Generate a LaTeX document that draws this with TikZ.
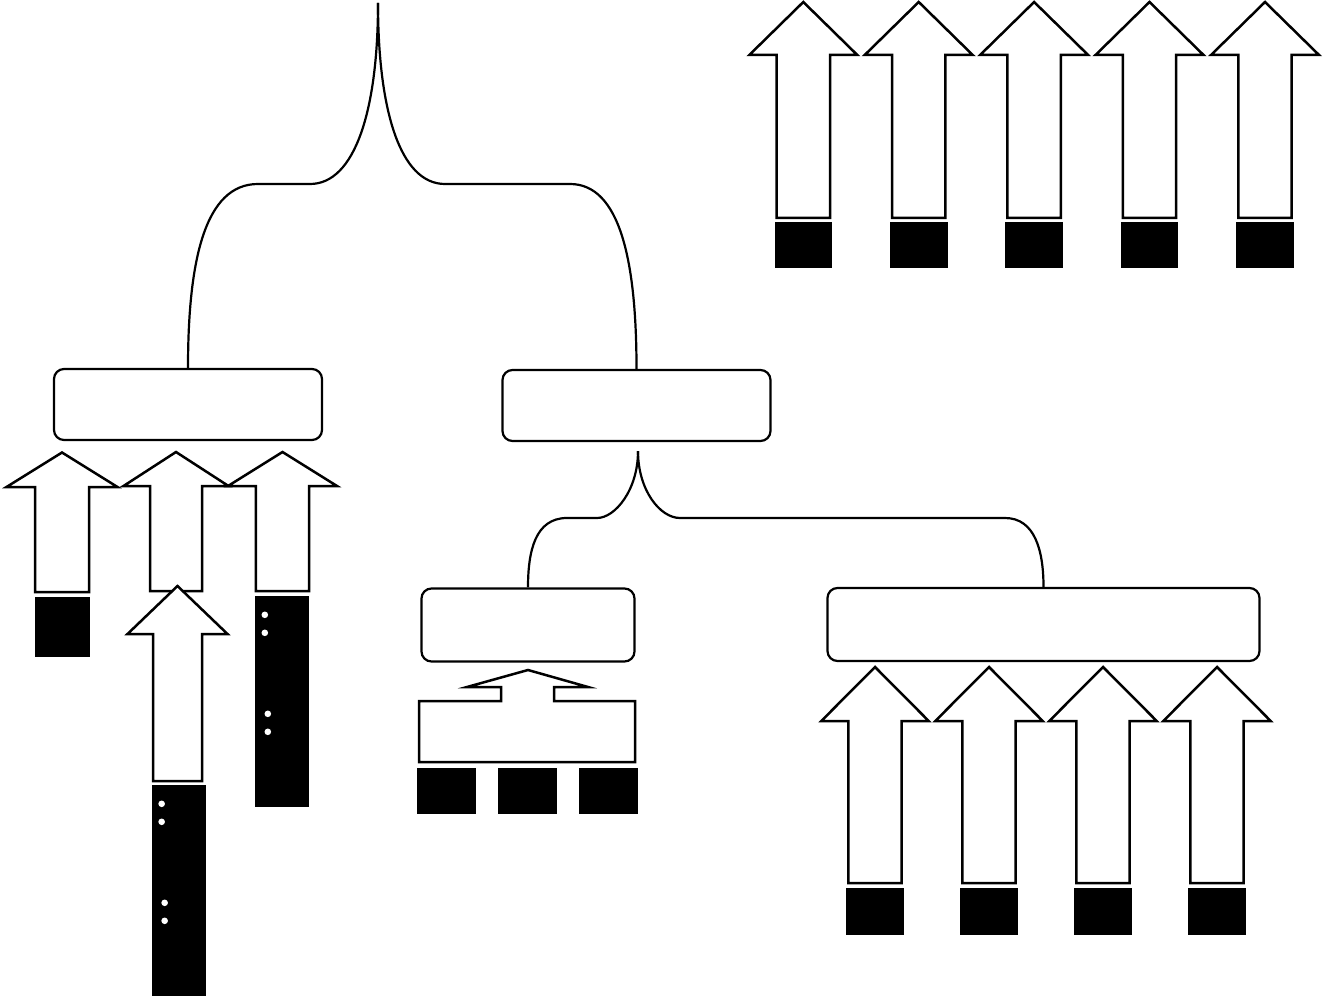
\documentclass[tikz,border=0pt]{standalone}
\usetikzlibrary{calc}

% hollow block arrow: x, tip y, head y, tail y, half head width, half shaft width
\newcommand{\fatarrow}[6]{%
  \draw[fat] (#1,#2) -- (#1+#5,#3) -- (#1+#6,#3) -- (#1+#6,#4)
    -- (#1-#6,#4) -- (#1-#6,#3) -- (#1-#5,#3) -- cycle;}

\begin{document}
\begin{tikzpicture}[x=1pt,y=-1pt,
    link/.style={line width=2.2pt},
    roundbox/.style={draw,line width=2.2pt,rounded corners=10pt,inner sep=0pt},
    blk/.style={fill=black,inner sep=0pt},
    fat/.style={draw,fill=white,line width=2.5pt}]
  \useasboundingbox (0,0) rectangle (1329,1000);

  % boxes
  \node[roundbox,minimum width=268pt,minimum height=71pt] (lbox) at (188,404.5) {};
  \node[roundbox,minimum width=268pt,minimum height=71pt] (rbox) at (636.5,405.5) {};
  \node[roundbox,minimum width=213pt,minimum height=73pt] (sbox) at (528,625) {};
  \node[roundbox,minimum width=432pt,minimum height=73pt] (bbox) at (1043.5,624.5) {};

  % upper brace
  \coordinate (top) at (378,3);
  \coordinate (tl1) at (310,184);
  \coordinate (tl2) at (258,184);
  \coordinate (tr1) at (445,184);
  \coordinate (tr2) at (570,184);
  \draw[link] (top) .. controls +(0,107) and +(45,0) .. (tl1) -- (tl2)
    .. controls +(-53,0) and +(0,-108) .. (lbox.north);
  \draw[link] (top) .. controls +(0,107) and +(-45,0) .. (tr1) -- (tr2)
    .. controls +(50,0) and +(0,-108) .. (rbox.north);

  % lower brace
  \coordinate (apex) at ($(rbox.south)+(1.5,9)$);
  \coordinate (ml1) at (597,518);
  \coordinate (ml2) at (567,518);
  \coordinate (mr1) at (680,518);
  \coordinate (mr2) at (1005,518);
  \draw[link] (apex) .. controls +(0,39) and +(18,0) .. (ml1) -- (ml2)
    .. controls +(-32,0) and +(0,-36) .. (sbox.north);
  \draw[link] (apex) .. controls +(0,39) and +(-20,0) .. (mr1) -- (mr2)
    .. controls +(30,0) and +(0,-36) .. (bbox.north);

  % top row
  \foreach \x [count=\i] in {803.3,918.7,1034.1,1149.5,1265}{
    \fatarrow{\x}{2}{55}{218}{54}{26.7}
    \node[blk,minimum width=57.6pt,minimum height=46pt] (in\i) at (\x,245) {};
  }

  % left group
  \fatarrow{62}{452.5}{487}{592}{55.5}{27}
  \node[blk,minimum width=55pt,minimum height=60pt] (la) at (62.5,627) {};
  \fatarrow{176}{452}{486}{591}{52.5}{26}
  \fatarrow{282.5}{452}{486}{591}{54.5}{26.7}
  \node[blk,minimum width=54pt,minimum height=211pt] (lc) at (282,701.5) {};
  \fatarrow{177.5}{586}{634}{781}{50}{24.5}
  \node[blk,minimum width=54.3pt,minimum height=211pt] (lb) at (179,890.5) {};
  \foreach \b in {lb,lc}{
    \foreach \dx/\dy in {10/19,10/37,13/118,13/136}
      \fill[white] ($(\b.north west)+(\dx,\dy)$) circle (3.3pt);
  }

  % merge under small box
  \draw[fat] (419,762) -- (419,701) -- (501,701) -- (501,687) -- (467,687)
    -- (528,670) -- (588,687) -- (554,687) -- (554,701) -- (635,701)
    -- (635,762) -- cycle;
  \foreach \x [count=\i] in {446.5,527.5,608}
    \node[blk,minimum width=59pt,minimum height=46pt] (m\i) at (\x,791) {};

  % bottom right row
  \foreach \x [count=\i] in {875,989,1103,1217}{
    \fatarrow{\x}{667}{721}{883}{53.7}{26.7}
    \node[blk,minimum width=58.6pt,minimum height=47pt] (r\i) at (\x,911.5) {};
  }
\end{tikzpicture}
\end{document}
